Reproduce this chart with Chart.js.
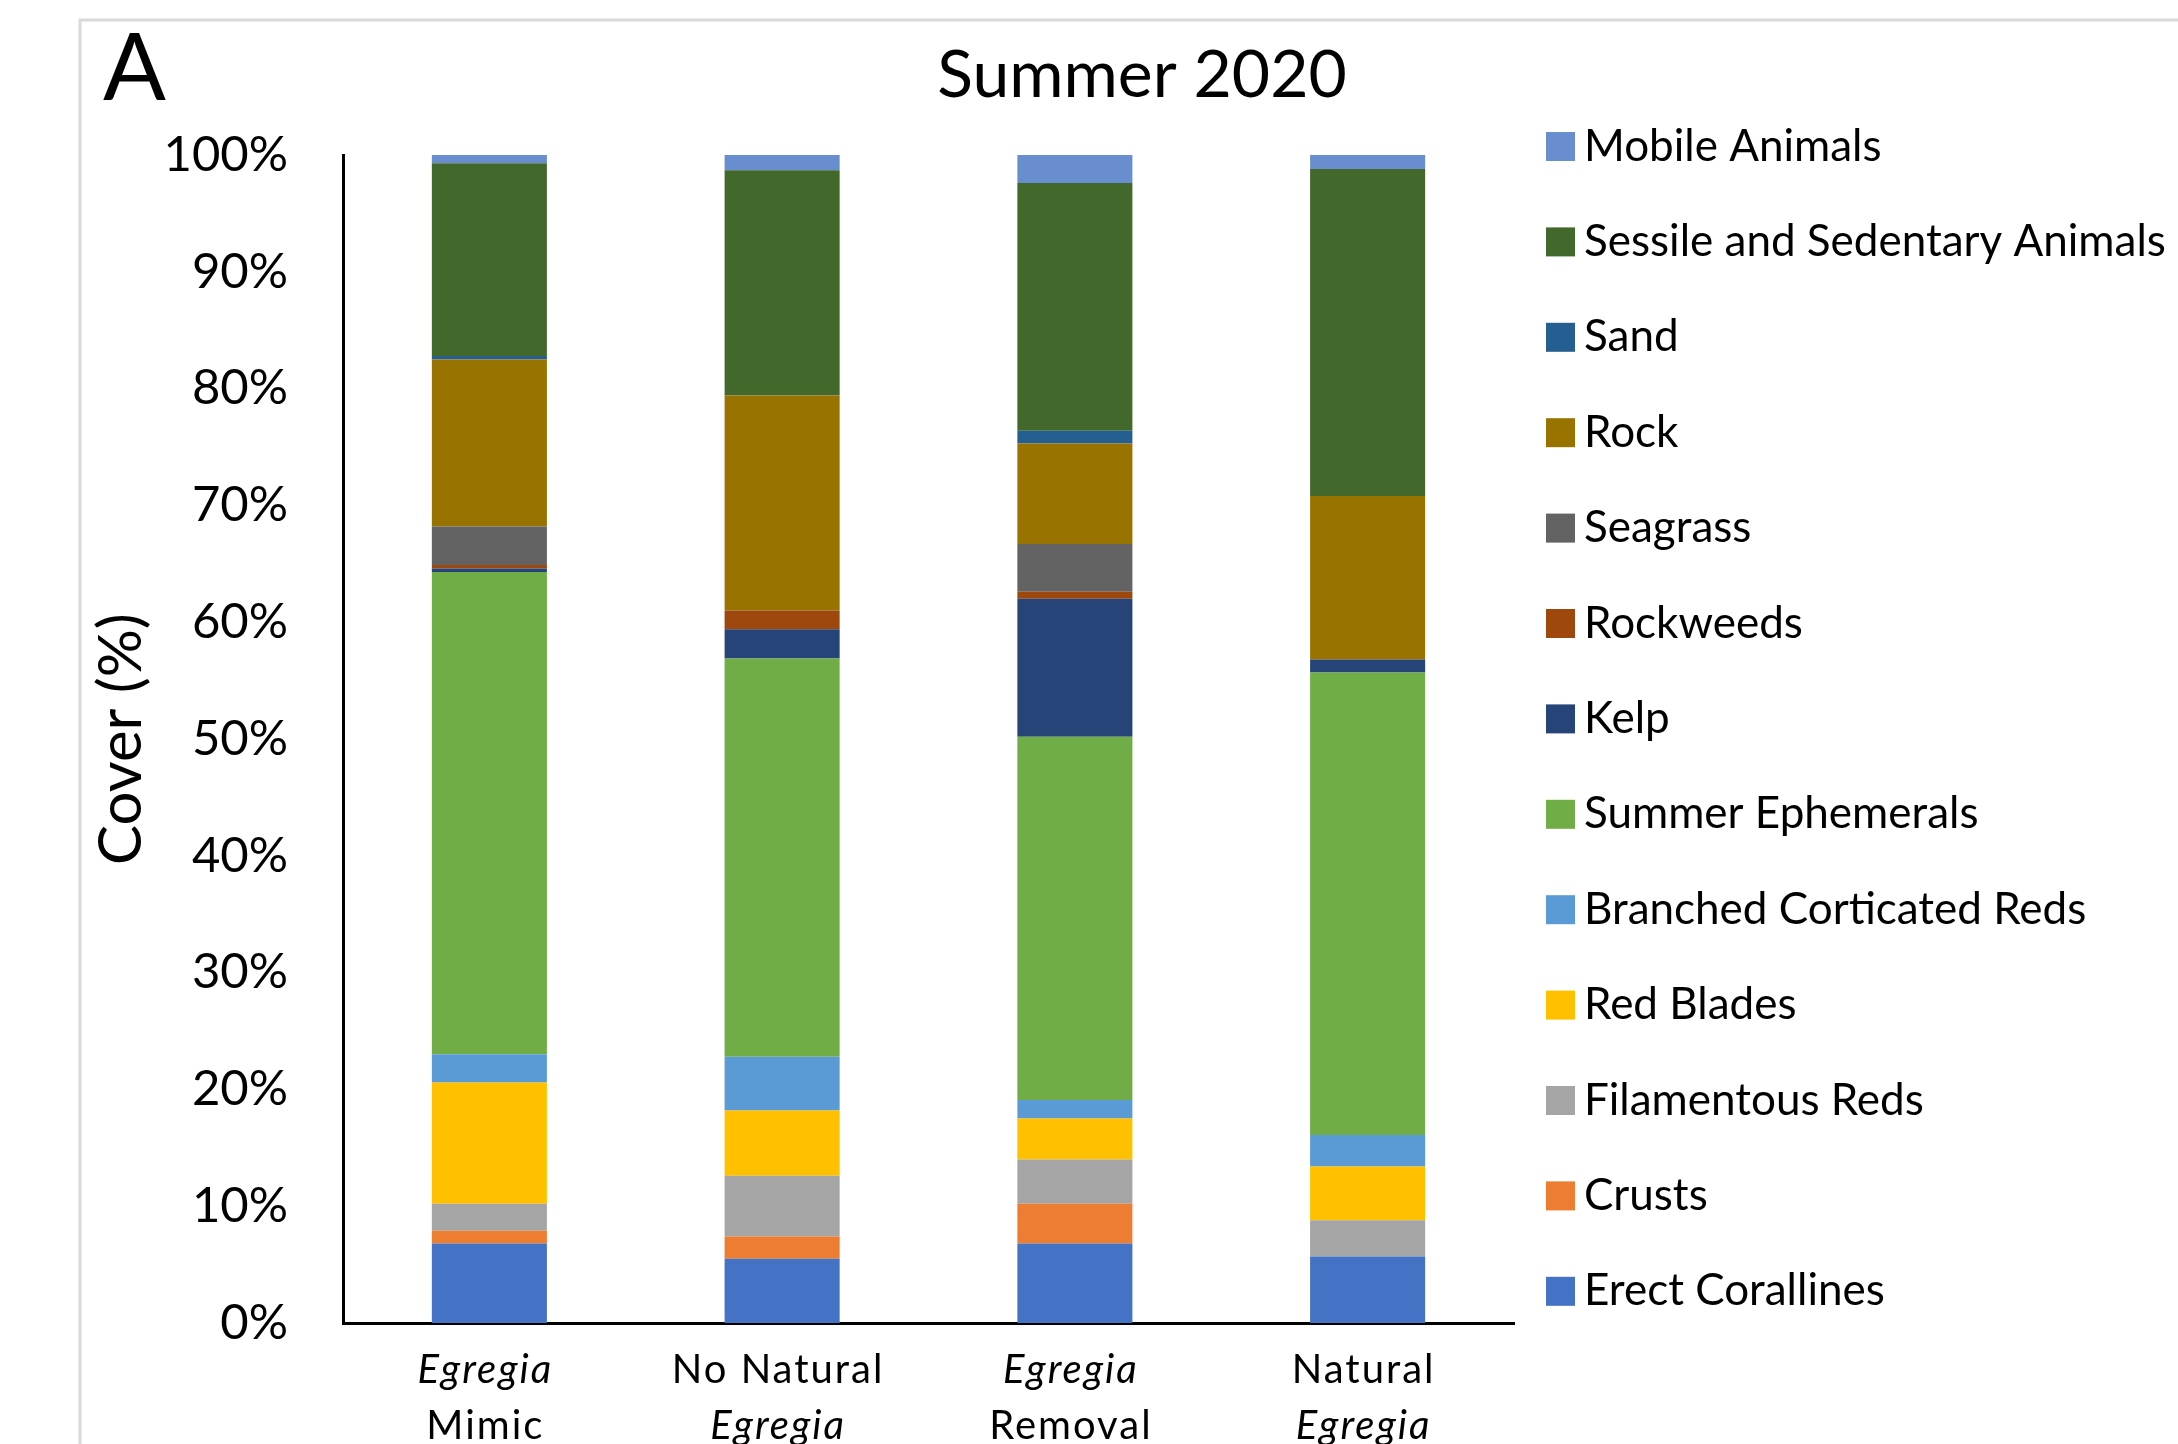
<!DOCTYPE html>
<html>
<head>
<meta charset="utf-8">
<title>Summer 2020 cover</title>
<script src="https://cdn.jsdelivr.net/npm/chart.js@4.4.1/dist/chart.umd.min.js"></script>
<style>
  html, body { margin: 0; padding: 0; background: #fff; }
  #wrap { width: 2178px; height: 1444px; }
</style>
</head>
<body>
<div id="wrap"><canvas id="cover" width="2178" height="1444"></canvas></div>
<script>
// --- DATA ---
const categories = [
    ['Egregia', 'Mimic'],
    ['No Natural', 'Egregia'],
    ['Egregia', 'Removal'],
    ['Natural', 'Egregia']
];
const italicWords = ['Egregia'];
const yTicks = [0, 10, 20, 30, 40, 50, 60, 70, 80, 90, 100];

// stacked bottom -> top, % cover
const erectCorallines   = [6.8, 5.5, 6.8, 5.7];
const crusts            = [1.1, 1.9, 3.4, 0];
const filamentousReds   = [2.3, 5.2, 3.8, 3.1];
const redBlades         = [10.4, 5.6, 3.5, 4.6];
const branchedReds      = [2.4, 4.6, 1.6, 2.7];
const summerEphemerals  = [41.3, 34.1, 31.1, 39.6];
const kelp              = [0.3, 2.5, 11.8, 1.1];
const rockweeds         = [0.3, 1.6, 0.6, 0];
const seagrass          = [3.3, 0, 4.1, 0];
const rock              = [14.3, 18.4, 8.6, 14.0];
const sand              = [0.3, 0, 1.1, 0];
const sessileAnimals    = [16.5, 19.3, 21.2, 28.0];
const mobileAnimals     = [0.7, 1.3, 2.4, 1.2];

const FONT = 'Lato';

const series = [
    { label: 'Erect Corallines', data: erectCorallines, color: '#4472C4' },
    { label: 'Crusts', data: crusts, color: '#ED7D31' },
    { label: 'Filamentous Reds', data: filamentousReds, color: '#A5A5A5' },
    { label: 'Red Blades', data: redBlades, color: '#FFC000' },
    { label: 'Branched Corticated Reds', data: branchedReds, color: '#5B9BD5' },
    { label: 'Summer Ephemerals', data: summerEphemerals, color: '#70AD47' },
    { label: 'Kelp', data: kelp, color: '#264478' },
    { label: 'Rockweeds', data: rockweeds, color: '#9E480E' },
    { label: 'Seagrass', data: seagrass, color: '#636363' },
    { label: 'Rock', data: rock, color: '#997300' },
    { label: 'Sand', data: sand, color: '#255E91' },
    { label: 'Sessile and Sedentary Animals', data: sessileAnimals, color: '#43682B' },
    { label: 'Mobile Animals', data: mobileAnimals, color: '#698ED0' }
];

// --- DECORATIONS: frame, panel letter, title, legend, two-line category labels ---
const decorations = {
    id: 'decorations',
    beforeDraw(chart) {
        const ctx = chart.ctx;
        ctx.save();
        ctx.strokeStyle = '#D9D9D9';
        ctx.lineWidth = 3;
        ctx.strokeRect(80, 20, 2200, 1500);
        ctx.restore();
    },
    afterDraw(chart) {
        const ctx = chart.ctx;
        ctx.save();
        ctx.fillStyle = '#000';

        // panel letter
        ctx.font = `400 93px ${FONT}`;
        ctx.textAlign = 'left';
        ctx.textBaseline = 'alphabetic';
        ctx.fillText('A', 103, 100);

        // title
        ctx.font = `400 66px ${FONT}`;
        ctx.textAlign = 'center';
        ctx.fillText('Summer 2020', 1142, 97);

        // legend, top item = last dataset
        ctx.textAlign = 'left';
        ctx.font = `400 44px ${FONT}`;
        const items = chart.data.datasets.slice().reverse();
        items.forEach((ds, i) => {
            const cy = 146.5 + i * 95.4;
            ctx.fillStyle = ds.backgroundColor;
            ctx.fillRect(1546, cy - 14.5, 29, 29);
            ctx.fillStyle = '#000';
            ctx.fillText(ds.label, 1584, cy + 14);
        });

        // category labels
        const x = chart.scales.x;
        ctx.textAlign = 'center';
        ctx.letterSpacing = '2px';
        chart.data.labels.forEach((lines, i) => {
            const px = x.getPixelForTick(i) - 4;
            lines.forEach((txt, j) => {
                const it = italicWords.includes(txt);
                ctx.font = `${it ? 'italic ' : ''}400 40px ${FONT}`;
                ctx.fillText(txt, px, 1383 + j * 56);
            });
        });
        ctx.restore();
    }
};

// --- CHART ---
new Chart(document.getElementById('cover'), {
    type: 'bar',
    data: {
        labels: categories,
        datasets: series.map(s => ({
            label: s.label,
            data: s.data,
            backgroundColor: s.color,
            borderWidth: 0,
            barPercentage: 0.393,
            categoryPercentage: 1
        }))
    },
    options: {
        responsive: false,
        animation: false,
        devicePixelRatio: 1,
        layout: { padding: { top: 155, right: 664, bottom: 0, left: 0 } },
        plugins: {
            legend: { display: false },
            title: { display: false },
            tooltip: { enabled: false }
        },
        scales: {
            x: {
                stacked: true,
                grid: { display: false },
                border: { display: true, color: '#000', width: 3 },
                ticks: { display: false },
                afterFit: s => { s.height = 121; }
            },
            y: {
                stacked: true,
                min: 0,
                max: 100,
                afterBuildTicks: s => { s.ticks = yTicks.map(v => ({ value: v })); },
                grid: { display: false, drawTicks: false },
                border: { display: true, color: '#000', width: 3 },
                ticks: {
                    padding: 55,
                    color: '#000',
                    font: { family: FONT, size: 49 },
                    callback: v => v + '%'
                },
                title: {
                    display: true,
                    text: 'Cover (%)',
                    color: '#000',
                    font: { family: FONT, size: 60 },
                    padding: { top: 86, bottom: 0 }
                },
                afterFit: s => { s.width = 343; }
            }
        }
    },
    plugins: [decorations]
});
</script>
</body>
</html>
